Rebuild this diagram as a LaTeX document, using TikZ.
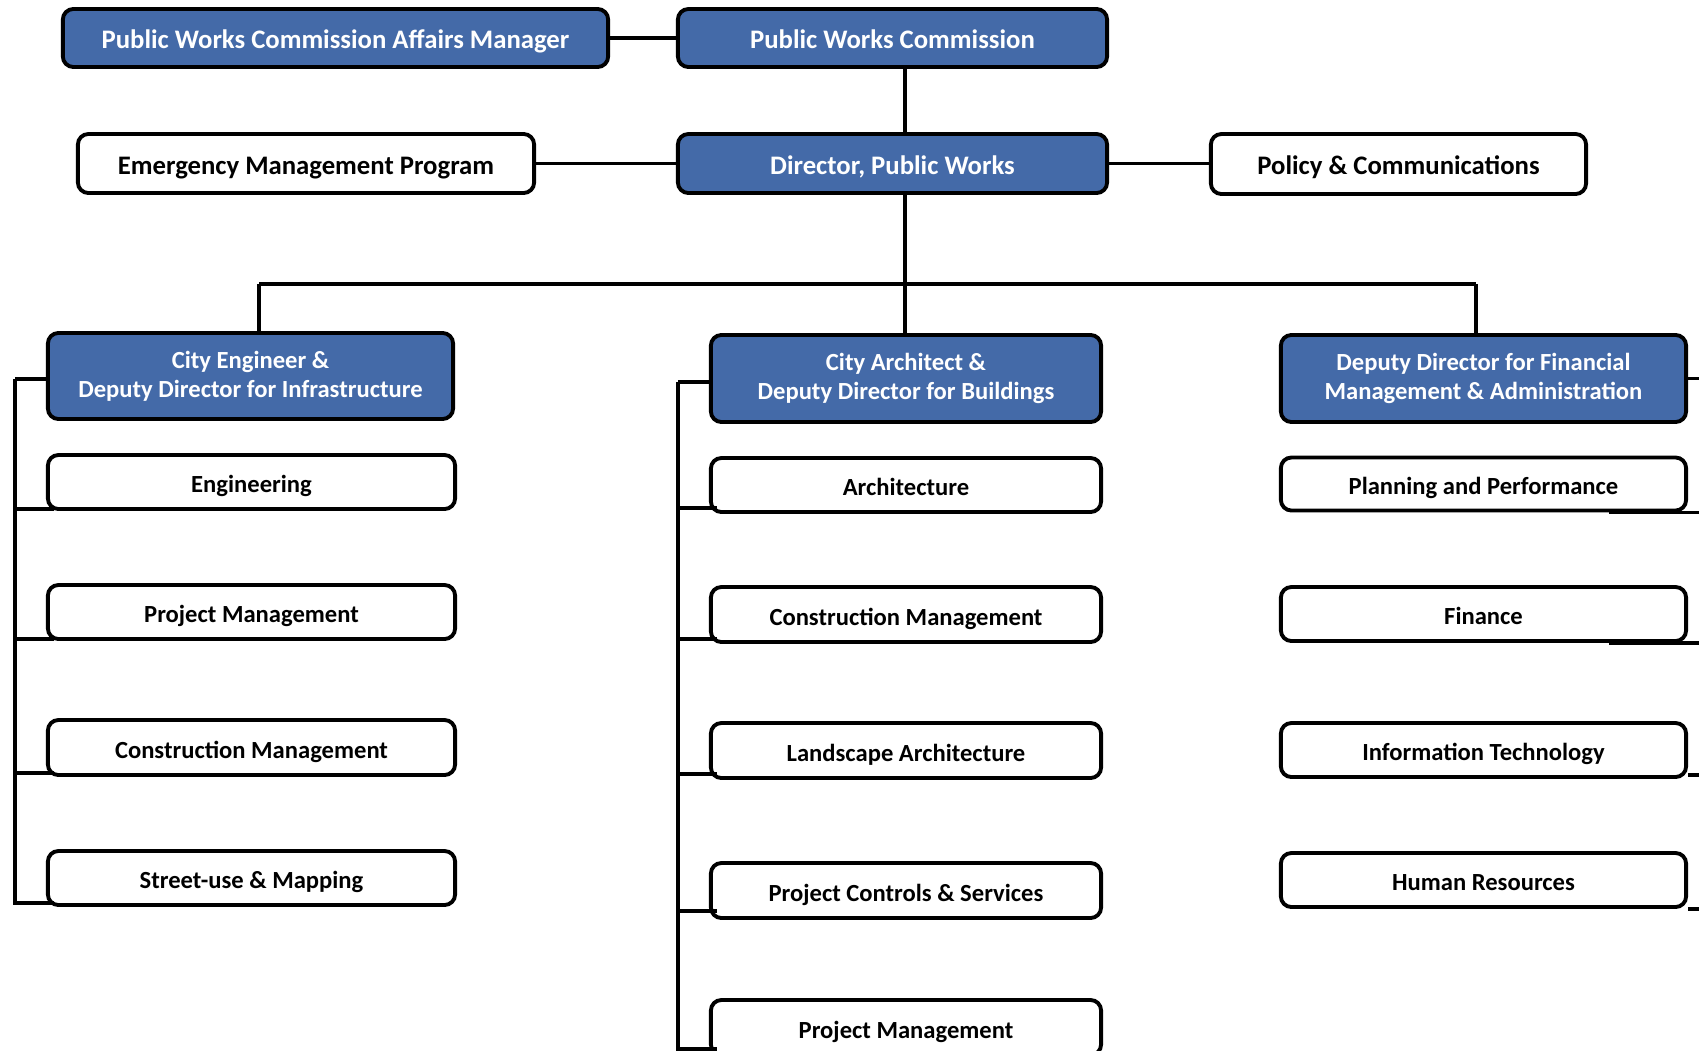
\documentclass[tikz,border=0pt]{standalone}
\usepackage{fontspec}
\setmainfont{Carlito}
\usetikzlibrary{calc}
\definecolor{boxblue}{RGB}{68,106,168}
\begin{document}
\begin{tikzpicture}[x=0.01cm,y=-0.01cm,
  box/.style={draw=black, line width=1.1pt, rounded corners=3pt, inner sep=0pt,
    font=\bfseries\fontsize{7}{8.2}\selectfont, align=center},
  bluebox/.style={box, fill=boxblue, text=white},
  whitebox/.style={box, fill=white, text=black},
  oneline/.style={text height=0.62em, text depth=0pt, align=none},
  big/.style={font=\bfseries\fontsize{7.6}{9}\selectfont},
  link/.style={line width=0.9pt}]
\path[use as bounding box, fill=white] (0,0) rectangle (1699,1051);

% top rows
\node[bluebox,big,oneline,minimum width=5.45cm,minimum height=0.58cm] (pwcam) at (335.5,38) {Public Works Commission Affairs Manager};
\node[bluebox,big,oneline,minimum width=4.29cm,minimum height=0.58cm] (pwc) at (892.5,38) {Public Works Commission};
\node[whitebox,big,oneline,minimum width=4.56cm,minimum height=0.59cm] (emp) at (306,163.5) {Emergency Management Program};
\node[bluebox,big,oneline,minimum width=4.29cm,minimum height=0.59cm] (dir) at (892.5,163.5) {Director, Public Works};
\node[whitebox,big,oneline,minimum width=3.75cm,minimum height=0.60cm] (pol) at (1398.5,164) {Policy \& Communications};

% deputies
\node[bluebox,minimum width=4.05cm,minimum height=0.86cm] (ce) at (250.5,376) {City Engineer \&\\Deputy Director for Infrastructure};
\node[bluebox,minimum width=3.90cm,minimum height=0.87cm] (ca) at (906,378.5) {City Architect \&\\Deputy Director for Buildings};
\node[bluebox,minimum width=4.05cm,minimum height=0.87cm] (dd) at (1483.5,378.5) {Deputy Director for Financial\\Management \& Administration};

% left column
\node[whitebox,oneline,minimum width=4.07cm,minimum height=0.54cm] (eng) at (251.5,482) {Engineering};
\node[whitebox,oneline,minimum width=4.07cm,minimum height=0.54cm] (lpm) at (251.5,612) {Project Management};
\node[whitebox,oneline,minimum width=4.07cm,minimum height=0.55cm] (lcm) at (251.5,747.5) {Construction Management};
\node[whitebox,oneline,minimum width=4.07cm,minimum height=0.54cm] (sum) at (251.5,878) {Street-use \& Mapping};

% middle column
\node[whitebox,oneline,minimum width=3.90cm,minimum height=0.54cm] (arch) at (906,485) {Architecture};
\node[whitebox,oneline,minimum width=3.90cm,minimum height=0.55cm] (mcm) at (906,614.5) {Construction Management};
\node[whitebox,oneline,minimum width=3.90cm,minimum height=0.55cm] (land) at (906,750.5) {Landscape Architecture};
\node[whitebox,oneline,minimum width=3.90cm,minimum height=0.55cm] (pcs) at (906,890.5) {Project Controls \& Services};
\node[whitebox,oneline,minimum width=3.90cm,minimum height=0.55cm] (mpm) at (906,1027.5) {Project Management};

% right column
\node[whitebox,oneline,minimum width=4.05cm,minimum height=0.53cm] (plan) at (1483.5,484) {Planning and Performance};
\node[whitebox,oneline,minimum width=4.05cm,minimum height=0.54cm] (fin) at (1483.5,614) {Finance};
\node[whitebox,oneline,minimum width=4.05cm,minimum height=0.54cm] (it) at (1483.5,750) {Information Technology};
\node[whitebox,oneline,minimum width=4.05cm,minimum height=0.54cm] (hr) at (1483.5,880) {Human Resources};

% upper connectors
\draw[link] (pwcam.east) -- (pwc.west);
\draw[link] (emp.east) -- (dir.west);
\draw[link] (dir.east) -- (dir.east -| pol.west);
\coordinate (tx) at (905,284);
\coordinate (bl) at (259,284);
\coordinate (br) at (1476,284);
\draw[link] (pwc.south -| tx) -- (dir.north -| tx);
\draw[link] (dir.south -| tx) -- (tx);
\draw[link] (bl) -- (br);
\draw[link] (bl) -- (bl |- ce.north);
\draw[link] (tx) -- (tx |- ca.north);
\draw[link] (br) -- (br |- dd.north);

% left spine
\coordinate (lt) at (15,379);
\coordinate (engb) at ($(eng.south west)+(8,-2)$);
\coordinate (lpmb) at ($(lpm.south west)+(8,-2)$);
\coordinate (lcmb) at ($(lcm.south west)+(8,-4)$);
\coordinate (sumb) at ($(sum.south west)+(8,-4)$);
\draw[link] (lt) -- (ce.west |- lt);
\draw[link] (lt) |- (sumb);
\draw[link] (lt |- engb) -- (engb);
\draw[link] (lt |- lpmb) -- (lpmb);
\draw[link] (lt |- lcmb) -- (lcmb);

% middle spine
\coordinate (mt) at (678,382);
\coordinate (archb) at ($(arch.south west)+(8,-6)$);
\coordinate (mcmb) at ($(mcm.south west)+(8,-5)$);
\coordinate (landb) at ($(land.south west)+(8,-6)$);
\coordinate (pcsb) at ($(pcs.south west)+(8,-9)$);
\coordinate (mpmb) at ($(mpm.south west)+(8,-8)$);
\draw[link] (mt) -- (ca.west |- mt);
\draw[link] (mt) |- (mpmb);
\draw[link] (mt |- archb) -- (archb);
\draw[link] (mt |- mcmb) -- (mcmb);
\draw[link] (mt |- landb) -- (landb);
\draw[link] (mt |- pcsb) -- (pcsb);

% right stubs
\coordinate (re) at (1712,0);
\coordinate (planb) at ($(plan.south east)+(-79,0)$);
\coordinate (finb) at ($(fin.south east)+(-79,0)$);
\coordinate (itb) at ($(it.south east)+(0,-4)$);
\draw[link] (dd.east) -- (re |- dd.east);
\draw[link] (planb) -- (re |- planb);
\draw[link] (finb) -- (re |- finb);
\draw[link] (itb) -- (re |- itb);
\draw[link] (hr.south east) -- (re |- hr.south east);
\end{tikzpicture}
\end{document}
